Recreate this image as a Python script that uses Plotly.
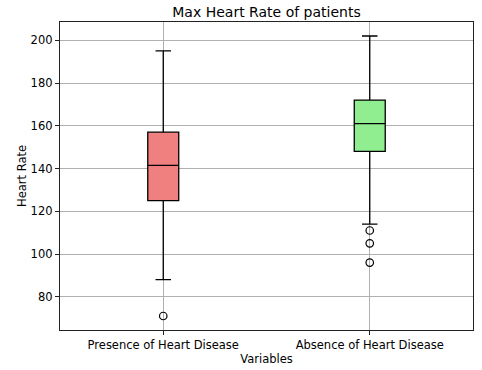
import plotly.graph_objects as go

categories = ["Presence of Heart Disease", "Absence of Heart Disease"]
positions = [1, 2]
q1 = [125, 148]
median = [141.5, 161]
q3 = [157, 172]
lower_whisker = [88, 114]
upper_whisker = [195, 202]
outliers = [[71], [111, 105, 96]]
colors = ["#F08080", "#90EE90"]

fig = go.Figure()
for i, cat in enumerate(categories):
    fig.add_trace(go.Box(
        x=[positions[i]], q1=[q1[i]], median=[median[i]], q3=[q3[i]],
        lowerfence=[lower_whisker[i]], upperfence=[upper_whisker[i]],
        width=0.15, whiskerwidth=0.5, fillcolor=colors[i],
        line=dict(color="black", width=1.3), boxpoints=False, name=cat,
        showlegend=False,
    ))
    fig.add_trace(go.Scatter(
        x=[positions[i]] * len(outliers[i]), y=outliers[i], mode="markers",
        marker=dict(symbol="circle-open", size=7.5, color="black", line=dict(width=1.2)),
        showlegend=False,
    ))

font = "DejaVu Sans, sans-serif"
fig.update_layout(
    width=482, height=370,
    margin=dict(l=60, r=9, t=22, b=40),
    paper_bgcolor="white", plot_bgcolor="white",
    font=dict(family=font, size=11.5, color="black"),
    title=dict(text="Max Heart Rate of patients", x=(60 + 473) / 2 / 482, xanchor="center",
               y=1 - 12 / 370, yanchor="middle", font=dict(size=14)),
)
fig.update_xaxes(
    range=[0.5, 2.5], tickvals=positions, ticktext=categories, automargin=False,
    showgrid=True, gridcolor="#b0b0b0", gridwidth=1.1, zeroline=False,
    showline=True, linecolor="#222222", linewidth=1.3, mirror=True,
    ticks="outside", ticklen=4, tickcolor="#222222", tickfont=dict(size=11.5),
    title=dict(text="Variables", standoff=3, font=dict(size=11.5)),
)
fig.update_yaxes(
    range=[64.45, 208.55], tickvals=[80, 100, 120, 140, 160, 180, 200], automargin=False,
    showgrid=True, gridcolor="#b0b0b0", gridwidth=1.1, zeroline=False,
    showline=True, linecolor="#222222", linewidth=1.3, mirror=True,
    ticks="outside", ticklen=4, tickcolor="#222222", tickfont=dict(size=11.5),
    title=dict(text="Heart Rate", standoff=1, font=dict(size=11.5)),
)
fig.write_html("out.html", config={"displayModeBar": False},
               post_script="document.body.style.margin='0';document.body.style.overflow='hidden';")
